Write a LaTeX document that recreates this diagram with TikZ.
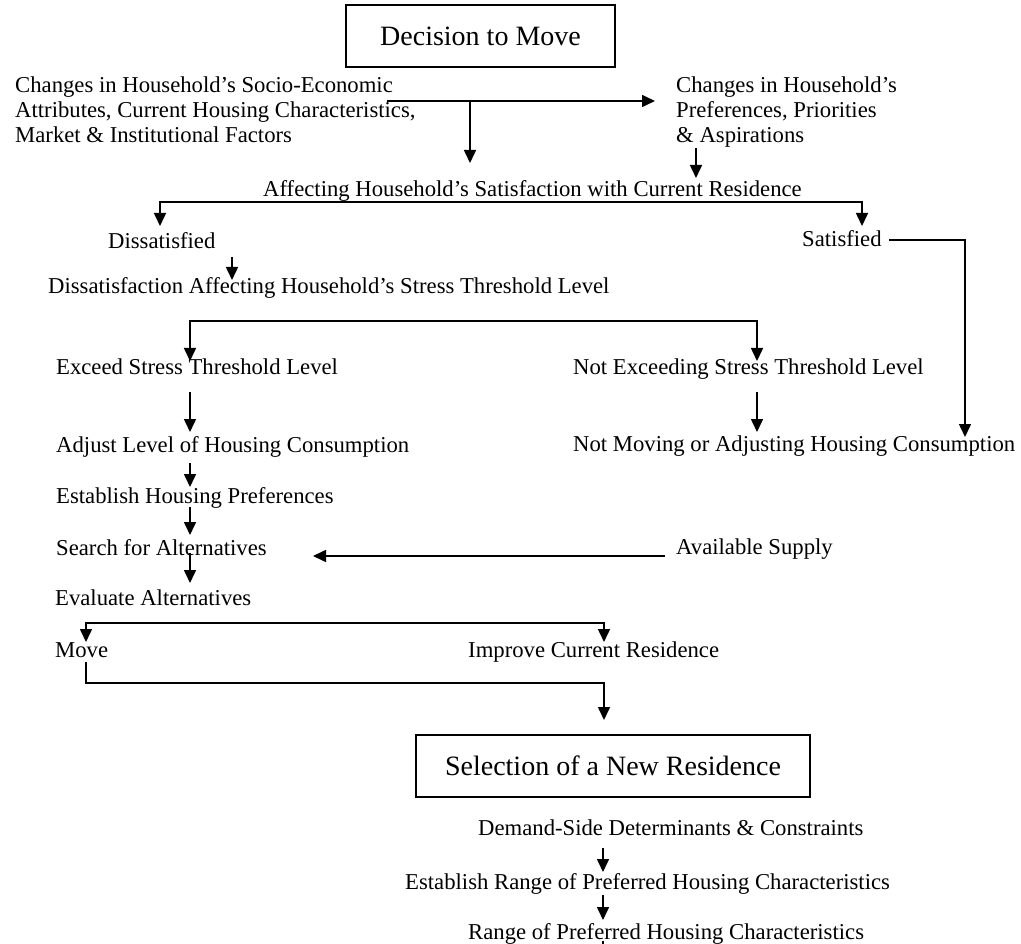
\documentclass[tikz,border=0pt]{standalone}
\usepackage{fontspec}
\setmainfont{Liberation Serif}
\usetikzlibrary{arrows.meta}
\begin{document}
\begin{tikzpicture}[x=1pt,y=-1pt,
  txt/.style={font=\fontsize{22.7}{25}\selectfont, inner sep=0pt, anchor=base west},
  hdr/.style={draw, line width=1.3pt, font=\fontsize{28}{32}\selectfont, inner sep=0pt},
  ln/.style={line width=1.6pt},
  arr/.style={ln, -{Triangle[width=12pt,length=13pt]}},
  darr/.style={ln, {Triangle[width=12pt,length=13pt]}-{Triangle[width=12pt,length=13pt]}}]
\useasboundingbox (0,0) rectangle (1021,944);

% header boxes
\node[hdr, minimum width=269pt, minimum height=62pt] (dec) at (480.5,36) {Decision to Move};
\node[hdr, minimum width=394pt, minimum height=62pt] (sel) at (613,766) {Selection of a New Residence};

% text nodes (multi-line nodes: base = last line)
\node[txt, align=left] (chgA) at (15,143) {Changes in Household’s Socio-Economic\\Attributes, Current Housing Characteristics,\\Market \& Institutional Factors};
\node[txt, align=left] (chgB) at (676,143) {Changes in Household’s\\Preferences, Priorities\\\& Aspirations};
\node[txt] (aff) at (263,197) {Affecting Household’s Satisfaction with Current Residence};
\node[txt] (dis) at (108,249) {Dissatisfied};
\node[txt] (sat) at (802,247) {Satisfied};
\node[txt] (dst) at (48,294) {Dissatisfaction Affecting Household’s Stress Threshold Level};
\node[txt] (exc) at (56,374) {Exceed Stress Threshold Level};
\node[txt] (nex) at (573,374) {Not Exceeding Stress Threshold Level};
\node[txt] (adj) at (56,452) {Adjust Level of Housing Consumption};
\node[txt] (nmv) at (573,451) {Not Moving or Adjusting Housing Consumption};
\node[txt] (est) at (56,503) {Establish Housing Preferences};
\node[txt] (sea) at (56,555) {Search for Alternatives};
\node[txt] (sup) at (676,554) {Available Supply};
\node[txt] (eva) at (55,605) {Evaluate Alternatives};
\node[txt] (mov) at (55,657) {Move};
\node[txt] (imp) at (468,657) {Improve Current Residence};
\node[txt] (dem) at (478,835) {Demand-Side Determinants \& Constraints};
\node[txt] (era) at (405,889) {Establish Range of Preferred Housing Characteristics};
\node[txt] (rng) at (468,939) {Range of Preferred Housing Characteristics};

% junction coordinates
\coordinate (a1) at (387,101);
\coordinate (a1e) at (655,101);
\coordinate (a2) at (470,101);
\coordinate (a2e) at (470,163);
\coordinate (b1) at (696,148);
\coordinate (b1e) at (696,178);
\coordinate (s1) at (160,226);
\coordinate (s2) at (160,202);
\coordinate (s3) at (862,202);
\coordinate (s4) at (862,226);
\coordinate (d1) at (232,257);
\coordinate (d1e) at (232,280);
\coordinate (t1) at (889,240);
\coordinate (t2) at (965,240);
\coordinate (t3) at (965,437);
\coordinate (x1) at (190,361);
\coordinate (x2) at (190,321);
\coordinate (x3) at (757,321);
\coordinate (x4) at (757,361);
\coordinate (e1) at (190,392);
\coordinate (e1e) at (190,432);
\coordinate (n1) at (757,392);
\coordinate (n1e) at (757,432);
\coordinate (e2) at (190,463);
\coordinate (e2e) at (190,487);
\coordinate (e3) at (190,507);
\coordinate (e3e) at (190,535);
\coordinate (e4) at (190,553);
\coordinate (e4e) at (190,583);
\coordinate (p1) at (665,556);
\coordinate (p1e) at (313,556);
\coordinate (m1) at (86,642);
\coordinate (m2) at (86,623);
\coordinate (m3) at (604,623);
\coordinate (m4) at (604,642);
\coordinate (v1) at (86,662);
\coordinate (v2) at (86,683);
\coordinate (v3) at (604,683);
\coordinate (v4) at (604,720);
\coordinate (r1) at (603,848);
\coordinate (r1e) at (603,872);
\coordinate (r2) at (603,895);
\coordinate (r2e) at (603,920);
\coordinate (r3) at (603,941);
\coordinate (r3e) at (603,946);

% connectors
\draw[arr] (a1) -- (a1e);
\draw[arr] (a2) -- (a2e);
\draw[arr] (b1) -- (b1e);
\draw[darr] (s1) -- (s2) -- (s3) -- (s4);
\draw[arr] (d1) -- (d1e);
\draw[arr] (t1) -- (t2) -- (t3);
\draw[darr] (x1) -- (x2) -- (x3) -- (x4);
\draw[arr] (e1) -- (e1e);
\draw[arr] (n1) -- (n1e);
\draw[arr] (e2) -- (e2e);
\draw[arr] (e3) -- (e3e);
\draw[arr] (e4) -- (e4e);
\draw[arr] (p1) -- (p1e);
\draw[darr] (m1) -- (m2) -- (m3) -- (m4);
\draw[arr] (v1) -- (v2) -- (v3) -- (v4);
\draw[arr] (r1) -- (r1e);
\draw[arr] (r2) -- (r2e);
\draw[ln] (r3) -- (r3e);
\end{tikzpicture}
\end{document}
